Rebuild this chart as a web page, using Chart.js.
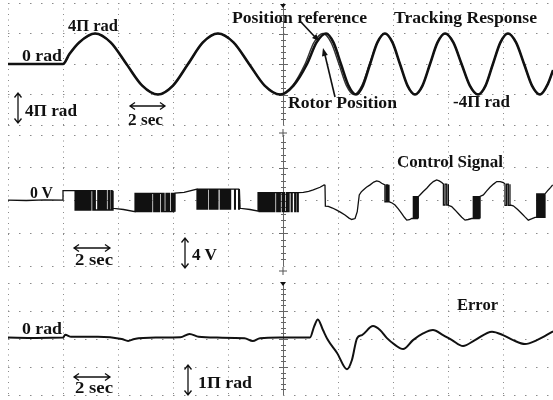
<!DOCTYPE html>
<html>
<head>
<meta charset="utf-8">
<script src="https://cdn.jsdelivr.net/npm/chart.js@4"></script>
<style>
  html, body { margin: 0; background: #fff; overflow: hidden; width: 553px; height: 400px; }
  canvas, svg { position: absolute; left: 0; }
  svg { top: 0; pointer-events: none; }
  svg text { font: bold 16px "Liberation Serif", "DejaVu Serif", serif; fill: #111; }
</style>
</head>
<body>
<canvas id="trackChart" width="560" height="130" style="top:0"></canvas>
<canvas id="controlChart" width="560" height="140" style="top:130px"></canvas>
<canvas id="errorChart" width="560" height="122" style="top:278px"></canvas>

<svg width="553" height="400">
  <g stroke="#111" stroke-width="1.3" fill="none">
    <path d="M18 93V123M14.5 97.5L18 93L21.5 97.5M14.5 118.5L18 123L21.5 118.5"/>
    <path d="M130 106H165M135 102.5L130 106L135 109.5M160 102.5L165 106L160 109.5"/>
    <path d="M74 248H110M79 244.5L74 248L79 251.5M105 244.5L110 248L105 251.5"/>
    <path d="M185 238V268M181.5 242.5L185 238L188.5 242.5M181.5 263.5L185 268L188.5 263.5"/>
    <path d="M74 377H110M79 373.5L74 377L79 380.5M105 373.5L110 377L105 380.5"/>
    <path d="M188 365V395M184.5 369.5L188 365L191.5 369.5M184.5 390.5L188 395L191.5 390.5"/>
    <path d="M300 21L315 37" stroke-width="1.6"/>
    <path d="M335 97L325 55" stroke-width="1.6"/>
    <path d="M279 133H287M283 129V137M279 271H287M283 267V275" stroke="#555" stroke-width="1"/>
  </g>
  <g fill="#111">
    <path d="M319 41L312 38.1L316.4 33.9Z"/>
    <path d="M323 48L327.8 55.1L322 56.5Z"/>
    <path d="M280 4H286L283 8Z"/>
    <path d="M280 282H286L283 286Z"/>
  </g>
  <text x="68" y="31" textLength="50" lengthAdjust="spacingAndGlyphs">4Π rad</text>
  <text x="22" y="61" textLength="40" lengthAdjust="spacingAndGlyphs">0 rad</text>
  <text x="25" y="116" textLength="52" lengthAdjust="spacingAndGlyphs">4Π rad</text>
  <text x="128" y="125" textLength="35" lengthAdjust="spacingAndGlyphs">2 sec</text>
  <text x="232" y="23" textLength="135" lengthAdjust="spacingAndGlyphs">Position reference</text>
  <text x="394" y="23" textLength="143" lengthAdjust="spacingAndGlyphs">Tracking Response</text>
  <text x="288" y="108" textLength="109" lengthAdjust="spacingAndGlyphs">Rotor Position</text>
  <text x="453" y="107" textLength="57" lengthAdjust="spacingAndGlyphs">-4Π rad</text>
  <text x="397" y="167" textLength="106" lengthAdjust="spacingAndGlyphs">Control Signal</text>
  <text x="30" y="198" textLength="23" lengthAdjust="spacingAndGlyphs">0 V</text>
  <text x="75" y="265" textLength="38" lengthAdjust="spacingAndGlyphs">2 sec</text>
  <text x="192" y="260" textLength="25" lengthAdjust="spacingAndGlyphs">4 V</text>
  <text x="457" y="310" textLength="41" lengthAdjust="spacingAndGlyphs">Error</text>
  <text x="22" y="334" textLength="40" lengthAdjust="spacingAndGlyphs">0 rad</text>
  <text x="75" y="393" textLength="38" lengthAdjust="spacingAndGlyphs">2 sec</text>
  <text x="198" y="388" textLength="54" lengthAdjust="spacingAndGlyphs">1Π rad</text>
</svg>

<script>
// time in s (3 s per division), positions in units of π rad, control in V

const rotorPos = [
  [0, 0], [3.0, 0], [3.35, 1.3], [3.88, 2.83], [4.75, 4], [5.6, 2.83], [6.46, 0], [7.32, -2.83],
  [8.18, -4], [9.0, -2.83], [9.82, 0], [10.63, 2.83], [11.45, 4], [12.3, 2.83], [13.15, 0],
  [14.0, -2.83], [14.84, -4], [15.57, -2.83], [16.31, 0], [16.83, 2.83], [17.35, 4], [17.75, 2.83],
  [18.16, 0], [18.57, -2.83], [18.98, -4], [19.36, -2.83], [19.75, 0], [20.15, 2.83], [20.56, 4],
  [20.97, 2.83], [21.38, 0], [21.79, -2.83], [22.2, -4], [22.61, -2.83], [23.02, 0], [23.43, 2.83],
  [23.84, 4], [24.29, 2.83], [24.74, 0], [25.19, -2.83], [25.64, -4], [26.05, -2.83], [26.45, 0],
  [26.86, 2.83], [27.27, 4], [27.71, 2.83], [28.15, 0], [28.58, -2.83], [29.02, -4], [29.45, -2.6],
  [29.73, -0.8]
];

const refPos = [
  [0, 0], [3.0, 0], [3.35, 1.3], [3.88, 2.83], [4.75, 4], [5.6, 2.83], [6.46, 0], [7.32, -2.83],
  [8.18, -4], [9.0, -2.83], [9.82, 0], [10.63, 2.83], [11.45, 4], [12.3, 2.83], [13.15, 0],
  [14.0, -2.83], [14.84, -4], [15.52, -2.83], [16.2, 0], [16.69, 2.83], [17.18, 4], [17.62, 2.83],
  [18.05, 0], [18.46, -2.83], [18.87, -4], [19.3, -2.83], [19.72, 0], [20.15, 2.83], [20.56, 4],
  [20.97, 2.83], [21.38, 0], [21.79, -2.83], [22.2, -4], [22.61, -2.83], [23.02, 0], [23.43, 2.83],
  [23.84, 4], [24.29, 2.83], [24.74, 0], [25.19, -2.83], [25.64, -4], [26.05, -2.83], [26.45, 0],
  [26.86, 2.83], [27.27, 4], [27.71, 2.83], [28.15, 0], [28.58, -2.83], [29.02, -4], [29.45, -2.6],
  [29.73, -0.8]
];

// switching instants of the chattering bursts (s)
const burstA = [3.66, 3.73, 3.79, 3.86, 3.92, 3.99, 4.05, 4.12, 4.19, 4.25, 4.32, 4.38, 4.45, 4.52, 4.63,
  4.7, 4.76, 4.9, 4.97, 5.03, 5.1, 5.16, 5.23, 5.29, 5.36, 5.47, 5.53, 5.62, 5.68, 5.73];
const burstB = [6.93, 6.99, 7.06, 7.12, 7.19, 7.25, 7.32, 7.38, 7.45, 7.51, 7.58, 7.64, 7.71, 7.77, 7.84,
  7.95, 8.01, 8.08, 8.14, 8.21, 8.27, 8.38, 8.44, 8.51, 8.62, 8.68, 8.75, 8.81, 8.92, 8.98, 9.05, 9.11];
const burstC = [10.31, 10.37, 10.44, 10.5, 10.57, 10.63, 10.7, 10.76, 10.83, 10.89, 11.0, 11.06, 11.13,
  11.19, 11.26, 11.32, 11.39, 11.45, 11.58, 11.64, 11.71, 11.77, 11.84, 11.9, 11.97, 12.03, 12.1, 12.14,
  12.36, 12.4, 12.58, 12.62];
const burstD = [13.64, 13.7, 13.77, 13.83, 13.9, 13.96, 14.03, 14.09, 14.16, 14.22, 14.29, 14.35, 14.42,
  14.48, 14.55, 14.66, 14.72, 14.79, 14.85, 14.96, 15.02, 15.09, 15.2, 15.26, 15.33, 15.45, 15.5, 15.64,
  15.69, 15.78, 15.82];
const burstE = [20.56, 20.64, 20.71, 20.78];
const burstF = [22.11, 22.16, 22.22, 22.27, 22.33, 22.38];
const burstG = [23.75, 23.84, 23.93, 24.02];
const burstH = [25.38, 25.43, 25.49, 25.54, 25.6, 25.65, 25.7, 25.75];
const burstI = [27.11, 27.2, 27.29, 27.38];
const burstJ = [28.84, 28.9, 28.95, 29.01, 29.06, 29.12, 29.17, 29.23, 29.29];

const controlSignal = [
  { path: [[0, 0.05], [1.0, 0], [2.0, 0.08], [3.0, 0.05], [3.0, 1.2], [3.66, 1.2]] },
  { burst: burstA, start: 'hi', hi: 1.2, lo: -1.16 },
  { path: [[5.73, -0.95], [6.3, -1.1], [6.93, -1.37]] },
  { burst: burstB, start: 'lo', hi: 0.88, lo: -1.37 },
  { path: [[9.11, 0.9], [9.6, 1.0], [10.31, 1.4]] },
  { burst: burstC, start: 'hi', hi: 1.4, lo: -1.04 },
  { path: [[12.66, -0.95], [13.2, -1.1], [13.64, -1.3]] },
  { burst: burstD, start: 'lo', hi: 0.95, lo: -1.37 },
  { path: [[15.84, 0.96], [16.11, 1.0], [16.4, 1.12], [16.65, 1.29], [17.02, 1.62], [17.24, 1.91],
           [17.29, 1.88], [17.31, -0.68], [17.47, -0.72], [17.7, -0.92], [17.93, -1.17], [18.15, -1.45],
           [18.38, -1.78], [18.6, -2.15], [18.75, -2.32], [18.93, -2.2], [19.05, -1.37], [19.16, 0.68],
           [19.27, 1.05], [19.38, 1.29], [19.55, 1.62], [19.75, 1.91], [19.95, 2.25], [20.11, 2.4],
           [20.25, 2.32], [20.38, 2.11], [20.56, 1.91]] },
  { burst: burstE, start: 'hi', hi: 1.91, lo: -0.15 },
  { path: [[20.78, -0.15], [20.95, -0.3], [21.11, -0.55], [21.3, -1.05], [21.47, -1.58], [21.62, -2.05],
           [21.75, -2.4], [21.9, -2.35], [22.02, -2.2], [22.11, -2.2]] },
  { burst: burstF, start: 'lo', hi: 0.47, lo: -2.2 },
  { path: [[22.38, 0.47], [22.47, 0.68], [22.65, 1.1], [22.84, 1.5], [23.02, 1.95], [23.2, 2.31],
           [23.38, 2.52], [23.52, 2.4], [23.66, 2.19], [23.75, 2.0]] },
  { burst: burstG, start: 'hi', hi: 2.0, lo: -0.55 },
  { path: [[24.02, -0.6], [24.2, -0.75], [24.38, -1.15], [24.56, -1.58], [24.75, -2.05], [24.93, -2.4],
           [25.1, -2.32], [25.29, -2.2], [25.38, -2.2]] },
  { burst: burstH, start: 'lo', hi: 0.47, lo: -2.2 },
  { path: [[25.75, 0.5], [25.93, 0.68], [26.1, 1.15], [26.29, 1.62], [26.48, 2.0], [26.66, 2.31],
           [26.85, 2.3], [27.02, 2.19], [27.11, 2.0]] },
  { burst: burstI, start: 'hi', hi: 2.0, lo: -0.6 },
  { path: [[27.38, -0.55], [27.56, -0.65], [27.8, -1.1], [28.02, -1.58], [28.2, -2.0], [28.38, -2.4],
           [28.55, -2.25], [28.75, -2.05], [28.84, -2.05]] },
  { burst: burstJ, start: 'lo', hi: 0.8, lo: -2.05 },
  { path: [[29.29, 0.8], [29.47, 1.29], [29.6, 1.6], [29.71, 1.91]] }
];

const posError = [
  [0, 0.05], [1.5, 0.04], [3.0, 0.05], [3.12, 0.15], [3.45, 0.08], [4.9, 0.08], [6.2, 0.0], [6.55, -0.07],
  [6.9, 0.0], [8.1, 0.05], [9.4, 0.06], [9.9, 0.18], [10.4, 0.08], [11.4, 0.05], [12.9, 0.03],
  [13.35, -0.07], [13.75, 0.03], [14.8, 0.05], [16.47, 0.05], [16.7, 0.45], [16.9, 0.7], [17.18, 0.32],
  [17.45, -0.04], [17.95, -0.5], [18.49, -1.08], [18.76, -0.75], [19.04, 0.03], [19.31, 0.14],
  [19.91, 0.46], [20.29, 0.32], [20.67, 0.03], [21.11, -0.21], [21.55, -0.36], [22.09, -0.04],
  [22.64, 0.2], [23.18, 0.32], [23.73, 0.14], [24.22, -0.04], [24.82, -0.25], [25.47, -0.04],
  [26.4, 0.26], [27.0, 0.14], [27.55, -0.04], [28.2, -0.18], [28.85, -0.04], [29.73, 0.27]
];

const toXY = arr => arr.map(([x, y]) => ({ x, y }));

function buildControl(pieces) {
  const pts = [];
  pieces.forEach(p => {
    if (p.path) {
      p.path.forEach(([x, y]) => pts.push({ x, y }));
    } else {
      let high = p.start === 'hi';
      p.burst.forEach(t => {
        pts.push({ x: t, y: high ? p.hi : p.lo });
        high = !high;
        pts.push({ x: t, y: high ? p.hi : p.lo });
      });
    }
  });
  return pts;
}

// scope style centre graticule with minor ticks
const centerAxis = {
  id: 'centerAxis',
  beforeDatasetsDraw(chart) {
    const { ctx, chartArea: a, scales: { x } } = chart;
    const cx = Math.round(x.getPixelForValue(15)) + 0.5;
    const step = (a.bottom - a.top) / 20;
    ctx.save();
    ctx.strokeStyle = '#666';
    ctx.lineWidth = 1;
    ctx.beginPath();
    ctx.moveTo(cx, a.top);
    ctx.lineTo(cx, a.bottom);
    for (let i = 1; i < 20; i++) {
      const yy = Math.round(a.top + i * step) + 0.5;
      const w = i % 5 ? 2.5 : 4.5;
      ctx.moveTo(cx - w, yy);
      ctx.lineTo(cx + w, yy);
    }
    ctx.stroke();
    ctx.restore();
  }
};

function scopeChart(id, datasets, yMax, pad) {
  return new Chart(document.getElementById(id), {
    type: 'line',
    data: { datasets },
    options: {
      responsive: false,
      animation: false,
      events: [],
      layout: { padding: { left: 8, right: 2, top: pad[0], bottom: pad[1] }, autoPadding: false },
      plugins: { legend: { display: false }, tooltip: { enabled: false } },
      elements: { point: { radius: 0 } },
      scales: {
        x: {
          type: 'linear', min: 0, max: 30,
          ticks: { display: false, stepSize: 3 },
          grid: { color: '#8a8a8a', drawTicks: false },
          border: { display: false, dash: [1, 4.5] }
        },
        y: {
          min: -yMax, max: yMax,
          ticks: { display: false, stepSize: yMax / 2 },
          grid: { color: '#8a8a8a', drawTicks: false },
          border: { display: false, dash: [1.5, 9.5] }
        }
      }
    },
    plugins: [centerAxis]
  });
}

scopeChart('trackChart', [
  { label: 'Rotor Position', data: toXY(rotorPos), borderColor: '#111', borderWidth: 2.6, cubicInterpolationMode: 'monotone' },
  { label: 'Position reference', data: toXY(refPos), borderColor: '#333', borderWidth: 1.4, cubicInterpolationMode: 'monotone' }
], 8, [3, 5]);

scopeChart('controlChart', [
  { label: 'Control Signal', data: buildControl(controlSignal), borderColor: '#111', borderWidth: 1.3, tension: 0 }
], 8, [5, 4]);

scopeChart('errorChart', [
  { label: 'Error', data: toXY(posError), borderColor: '#111', borderWidth: 2, cubicInterpolationMode: 'monotone' }
], 2, [5, 5]);
</script>
</body>
</html>
